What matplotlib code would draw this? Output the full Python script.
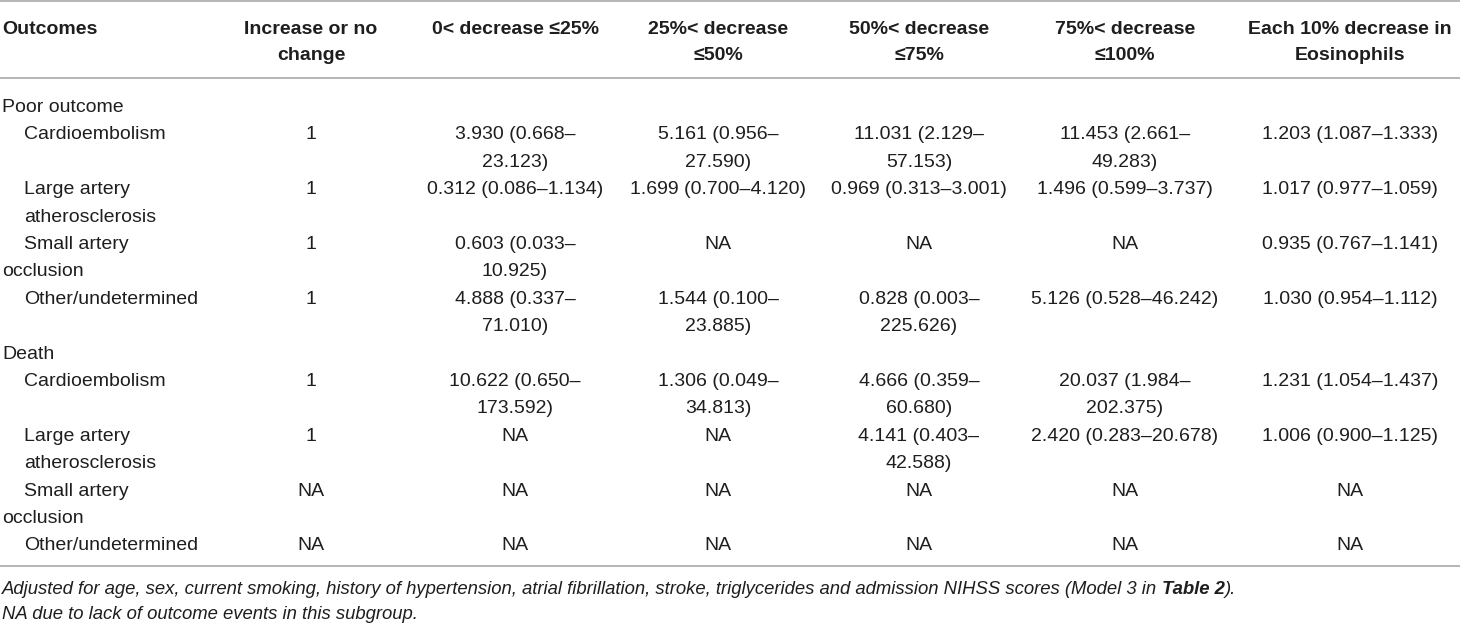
import matplotlib
matplotlib.use("Agg")
import matplotlib.pyplot as plt

plt.rcParams['font.family'] = ['Liberation Sans', 'DejaVu Sans']

# table content
headers = ["Outcomes", "Increase or no\nchange", "0< decrease ≤25%", "25%< decrease\n≤50%",
           "50%< decrease\n≤75%", "75%< decrease\n≤100%", "Each 10% decrease in\nEosinophils"]
groups = ["Poor outcome", "Death"]
subtypes = ["Cardioembolism", "Large artery atherosclerosis", "Small artery occlusion", "Other/undetermined"]

poor_inc = ["1", "1", "1", "1"]
poor_d25 = ["3.930 (0.668–23.123)", "0.312 (0.086–1.134)", "0.603 (0.033–10.925)", "4.888 (0.337–71.010)"]
poor_d50 = ["5.161 (0.956–27.590)", "1.699 (0.700–4.120)", "NA", "1.544 (0.100–23.885)"]
poor_d75 = ["11.031 (2.129–57.153)", "0.969 (0.313–3.001)", "NA", "0.828 (0.003–225.626)"]
poor_d100 = ["11.453 (2.661–49.283)", "1.496 (0.599–3.737)", "NA", "5.126 (0.528–46.242)"]
poor_each10 = ["1.203 (1.087–1.333)", "1.017 (0.977–1.059)", "0.935 (0.767–1.141)", "1.030 (0.954–1.112)"]

death_inc = ["1", "1", "NA", "NA"]
death_d25 = ["10.622 (0.650–173.592)", "NA", "NA", "NA"]
death_d50 = ["1.306 (0.049–34.813)", "NA", "NA", "NA"]
death_d75 = ["4.666 (0.359–60.680)", "4.141 (0.403–42.588)", "NA", "NA"]
death_d100 = ["20.037 (1.984–202.375)", "2.420 (0.283–20.678)", "NA", "NA"]
death_each10 = ["1.231 (1.054–1.437)", "1.006 (0.900–1.125)", "NA", "NA"]

note1 = "Adjusted for age, sex, current smoking, history of hypertension, atrial fibrillation, stroke, triglycerides and admission NIHSS scores (Model 3 in "
note1_bold = "Table 2"
note1_end = ")."
note2 = "NA due to lack of outcome events in this subgroup."

group_cols = [
    [poor_inc, poor_d25, poor_d50, poor_d75, poor_d100, poor_each10],
    [death_inc, death_d25, death_d50, death_d75, death_d100, death_each10],
]

# layout (pixels)
W, H = 1460, 623
col_x = [2, 311, 515, 718, 919, 1125, 1350]
max_chars = [99, 99, 19, 19, 19, 20, 99]
indent = 22
pitch = 27.4
base_off = 7
fs = 14
TXT = "#1e1e1e"
RULE = "#a9a9a9"
label_lines = {
    "Large artery atherosclerosis": [("Large artery", indent), ("atherosclerosis", indent)],
    "Small artery occlusion": [("Small artery", indent), ("occlusion", 0)],
}


def wrap(s, col):
    if len(s) > max_chars[col] and "–" in s:
        a, b = s.split("–", 1)
        return [a + "–", b]
    return [s]


fig = plt.figure(figsize=(W / 100, H / 100), dpi=100)
ax = fig.add_axes([0, 0, 1, 1])
ax.set_xlim(0, W)
ax.set_ylim(H, 0)
ax.axis('off')

for y in [1, 78, 566]:
    ax.axhline(y, color=RULE, lw=1.2)

# header
for i, h in enumerate(headers):
    for k, line in enumerate(h.split("\n")):
        ax.text(col_x[i], 27 + k * 26.5 + base_off, line, ha='left' if i == 0 else 'center',
                va='baseline', fontsize=fs, fontweight='bold', color=TXT)

# body
y = 105
for g, gname in enumerate(groups):
    ax.text(col_x[0], y + base_off, gname, ha='left', va='baseline', fontsize=fs, color=TXT)
    y += pitch
    for r, sub in enumerate(subtypes):
        lab = label_lines.get(sub, [(sub, indent)])
        cells = [wrap(group_cols[g][c][r], c + 1) for c in range(6)]
        nlines = max([len(lab)] + [len(c) for c in cells])
        for k, (txt, dx) in enumerate(lab):
            ax.text(col_x[0] + dx, y + k * pitch + base_off, txt, ha='left', va='baseline',
                    fontsize=fs, color=TXT)
        for c, lines in enumerate(cells):
            for k, txt in enumerate(lines):
                ax.text(col_x[c + 1], y + k * pitch + base_off, txt, ha='center', va='baseline',
                        fontsize=fs, color=TXT)
        y += nlines * pitch

# footnotes
fn = 13.3
t1 = ax.text(2, 594, note1, ha='left', va='baseline', fontsize=fn, style='italic', color=TXT)
t2 = ax.annotate(note1_bold, xy=(1, 0), xycoords=t1, ha='left', va='bottom', fontsize=fn,
                 style='italic', fontweight='bold', color=TXT)
ax.annotate(note1_end, xy=(1, 0), xycoords=t2, ha='left', va='bottom', fontsize=fn,
            style='italic', color=TXT)
ax.text(2, 619, note2, ha='left', va='baseline', fontsize=fn, style='italic', color=TXT)

fig.savefig("out.png", dpi=100)
